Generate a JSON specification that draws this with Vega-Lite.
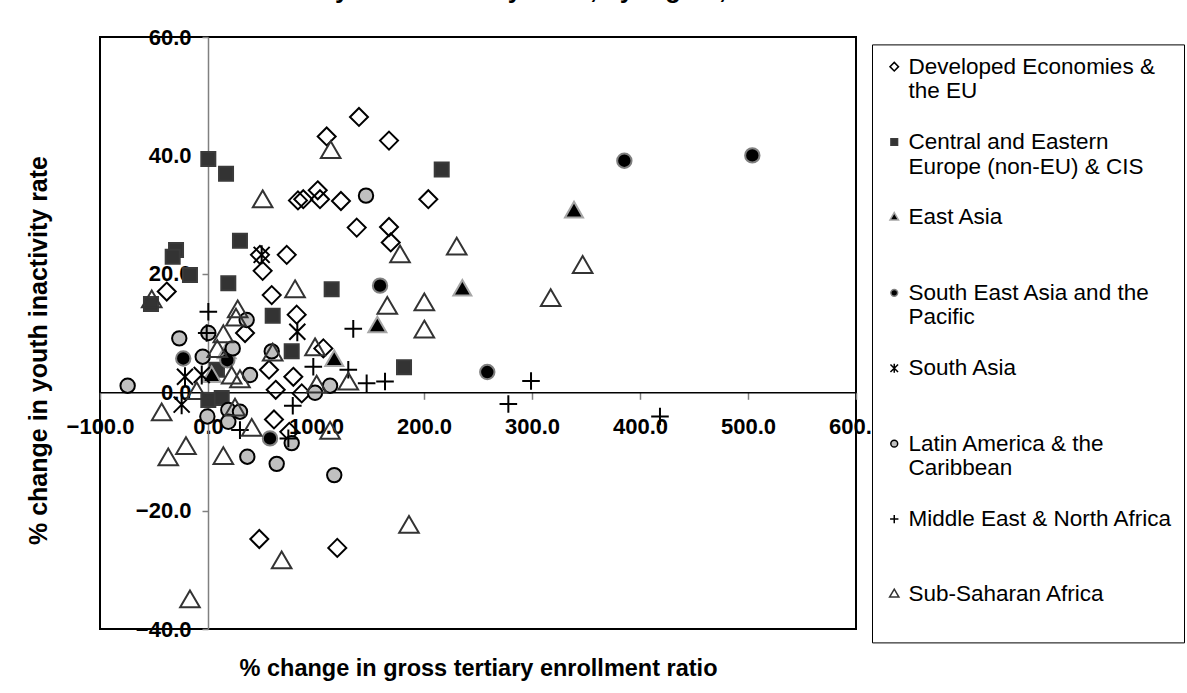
{
  "$schema": "https://vega.github.io/schema/vega-lite/v6.json",
  "autosize": "none",
  "width": 756,
  "height": 592,
  "padding": {"left": 100, "top": 37, "right": 331, "bottom": 64},
  "background": "white",
  "title": {
    "text": "youth inactivity rates, by region, 1995-2005",
    "anchor": "middle",
    "frame": "group",
    "dx": 117,
    "offset": 3,
    "baseline": "alphabetic",
    "font": "Liberation Sans",
    "fontWeight": "bold",
    "fontSize": 25.5,
    "color": "black"
  },
  "data": {
    "values": [
      {"region": "Developed Economies & the EU", "x": 139.8, "y": 46.5},
      {"region": "Developed Economies & the EU", "x": 109.9, "y": 43.2},
      {"region": "Developed Economies & the EU", "x": 167.6, "y": 42.5},
      {"region": "Developed Economies & the EU", "x": 88.2, "y": 32.6},
      {"region": "Developed Economies & the EU", "x": 83.3, "y": 32.4},
      {"region": "Developed Economies & the EU", "x": 101.6, "y": 34.1},
      {"region": "Developed Economies & the EU", "x": 103.7, "y": 32.6},
      {"region": "Developed Economies & the EU", "x": 123.1, "y": 32.3},
      {"region": "Developed Economies & the EU", "x": 204.0, "y": 32.6},
      {"region": "Developed Economies & the EU", "x": 137.7, "y": 27.8},
      {"region": "Developed Economies & the EU", "x": 167.6, "y": 27.9},
      {"region": "Developed Economies & the EU", "x": 169.2, "y": 25.3},
      {"region": "Developed Economies & the EU", "x": 48.1, "y": 23.2},
      {"region": "Developed Economies & the EU", "x": 72.9, "y": 23.2},
      {"region": "Developed Economies & the EU", "x": 50.6, "y": 20.5},
      {"region": "Developed Economies & the EU", "x": 59.0, "y": 16.4},
      {"region": "Developed Economies & the EU", "x": -38.2, "y": 17.0},
      {"region": "Developed Economies & the EU", "x": 82.1, "y": 13.1},
      {"region": "Developed Economies & the EU", "x": 34.3, "y": 10.0},
      {"region": "Developed Economies & the EU", "x": 106.8, "y": 7.4},
      {"region": "Developed Economies & the EU", "x": 56.5, "y": 3.8},
      {"region": "Developed Economies & the EU", "x": 79.0, "y": 2.6},
      {"region": "Developed Economies & the EU", "x": 62.7, "y": 0.4},
      {"region": "Developed Economies & the EU", "x": 86.8, "y": -0.2},
      {"region": "Developed Economies & the EU", "x": 61.1, "y": -4.6},
      {"region": "Developed Economies & the EU", "x": 75.3, "y": -6.7},
      {"region": "Developed Economies & the EU", "x": 47.5, "y": -24.8},
      {"region": "Developed Economies & the EU", "x": 119.7, "y": -26.3},
      {"region": "Central and Eastern Europe (non-EU) & CIS", "x": 0.3, "y": 39.4},
      {"region": "Central and Eastern Europe (non-EU) & CIS", "x": 16.7, "y": 36.9},
      {"region": "Central and Eastern Europe (non-EU) & CIS", "x": 29.6, "y": 25.6},
      {"region": "Central and Eastern Europe (non-EU) & CIS", "x": -29.6, "y": 24.0},
      {"region": "Central and Eastern Europe (non-EU) & CIS", "x": -32.7, "y": 22.9},
      {"region": "Central and Eastern Europe (non-EU) & CIS", "x": -16.7, "y": 19.8},
      {"region": "Central and Eastern Europe (non-EU) & CIS", "x": 18.8, "y": 18.4},
      {"region": "Central and Eastern Europe (non-EU) & CIS", "x": 114.5, "y": 17.4},
      {"region": "Central and Eastern Europe (non-EU) & CIS", "x": 59.9, "y": 12.9},
      {"region": "Central and Eastern Europe (non-EU) & CIS", "x": 77.5, "y": 6.9},
      {"region": "Central and Eastern Europe (non-EU) & CIS", "x": -52.8, "y": 14.9},
      {"region": "Central and Eastern Europe (non-EU) & CIS", "x": 0.3, "y": -1.3},
      {"region": "Central and Eastern Europe (non-EU) & CIS", "x": 12.7, "y": -1.0},
      {"region": "Central and Eastern Europe (non-EU) & CIS", "x": 8.3, "y": 3.8},
      {"region": "Central and Eastern Europe (non-EU) & CIS", "x": 216.4, "y": 37.6},
      {"region": "Central and Eastern Europe (non-EU) & CIS", "x": 181.5, "y": 4.2},
      {"region": "East Asia", "x": 338.9, "y": 30.4},
      {"region": "East Asia", "x": 235.5, "y": 17.2},
      {"region": "East Asia", "x": 156.8, "y": 11.0},
      {"region": "East Asia", "x": 116.9, "y": 5.3},
      {"region": "East Asia", "x": 17.3, "y": 6.6},
      {"region": "East Asia", "x": 3.4, "y": 2.6},
      {"region": "South East Asia and the Pacific", "x": 385.5, "y": 39.1},
      {"region": "South East Asia and the Pacific", "x": 504.0, "y": 40.0},
      {"region": "South East Asia and the Pacific", "x": 258.6, "y": 3.4},
      {"region": "South East Asia and the Pacific", "x": 159.3, "y": 18.0},
      {"region": "South East Asia and the Pacific", "x": -22.9, "y": 5.7},
      {"region": "South East Asia and the Pacific", "x": 17.9, "y": 5.4},
      {"region": "South East Asia and the Pacific", "x": 57.4, "y": -7.8},
      {"region": "South Asia", "x": 49.7, "y": 23.2},
      {"region": "South Asia", "x": 82.7, "y": 10.2},
      {"region": "South Asia", "x": -21.3, "y": 2.6},
      {"region": "South Asia", "x": -5.8, "y": 2.9},
      {"region": "South Asia", "x": -24.4, "y": -2.1},
      {"region": "Latin America & the Caribbean", "x": 146.3, "y": 33.2},
      {"region": "Latin America & the Caribbean", "x": -74.4, "y": 1.1},
      {"region": "Latin America & the Caribbean", "x": -26.6, "y": 9.1},
      {"region": "Latin America & the Caribbean", "x": -4.9, "y": 6.0},
      {"region": "Latin America & the Caribbean", "x": 35.8, "y": 12.2},
      {"region": "Latin America & the Caribbean", "x": 22.9, "y": 7.4},
      {"region": "Latin America & the Caribbean", "x": 38.9, "y": 2.9},
      {"region": "Latin America & the Caribbean", "x": 59.0, "y": 6.9},
      {"region": "Latin America & the Caribbean", "x": 113.0, "y": 1.1},
      {"region": "Latin America & the Caribbean", "x": 99.1, "y": -0.1},
      {"region": "Latin America & the Caribbean", "x": -0.6, "y": -4.1},
      {"region": "Latin America & the Caribbean", "x": 18.8, "y": -3.0},
      {"region": "Latin America & the Caribbean", "x": 29.6, "y": -3.3},
      {"region": "Latin America & the Caribbean", "x": 18.8, "y": -5.0},
      {"region": "Latin America & the Caribbean", "x": 77.5, "y": -8.6},
      {"region": "Latin America & the Caribbean", "x": 36.4, "y": -10.9},
      {"region": "Latin America & the Caribbean", "x": 63.6, "y": -12.1},
      {"region": "Latin America & the Caribbean", "x": 0.3, "y": 10.0},
      {"region": "Latin America & the Caribbean", "x": 116.9, "y": -14.0},
      {"region": "Middle East & North Africa", "x": 0.3, "y": 13.6},
      {"region": "Middle East & North Africa", "x": -1.2, "y": 10.0},
      {"region": "Middle East & North Africa", "x": 134.5, "y": 10.7},
      {"region": "Middle East & North Africa", "x": 97.5, "y": 4.3},
      {"region": "Middle East & North Africa", "x": 129.9, "y": 3.8},
      {"region": "Middle East & North Africa", "x": 146.9, "y": 1.5},
      {"region": "Middle East & North Africa", "x": 163.9, "y": 1.8},
      {"region": "Middle East & North Africa", "x": 78.5, "y": -2.3},
      {"region": "Middle East & North Africa", "x": 29.6, "y": -6.4},
      {"region": "Middle East & North Africa", "x": 74.4, "y": -7.8},
      {"region": "Middle East & North Africa", "x": 299.1, "y": 1.9},
      {"region": "Middle East & North Africa", "x": 278.1, "y": -2.0},
      {"region": "Middle East & North Africa", "x": 418.5, "y": -4.1},
      {"region": "Sub-Saharan Africa", "x": 113.6, "y": 40.5},
      {"region": "Sub-Saharan Africa", "x": 50.6, "y": 32.2},
      {"region": "Sub-Saharan Africa", "x": 177.8, "y": 22.9},
      {"region": "Sub-Saharan Africa", "x": 80.6, "y": 17.0},
      {"region": "Sub-Saharan Africa", "x": -52.1, "y": 15.3},
      {"region": "Sub-Saharan Africa", "x": 27.5, "y": 13.6},
      {"region": "Sub-Saharan Africa", "x": 25.9, "y": 12.2},
      {"region": "Sub-Saharan Africa", "x": 14.2, "y": 9.4},
      {"region": "Sub-Saharan Africa", "x": 8.6, "y": 6.9},
      {"region": "Sub-Saharan Africa", "x": 59.9, "y": 6.3},
      {"region": "Sub-Saharan Africa", "x": 99.1, "y": 7.2},
      {"region": "Sub-Saharan Africa", "x": 21.9, "y": 2.4},
      {"region": "Sub-Saharan Africa", "x": 29.6, "y": 1.8},
      {"region": "Sub-Saharan Africa", "x": -10.5, "y": -0.2},
      {"region": "Sub-Saharan Africa", "x": 100.6, "y": 0.9},
      {"region": "Sub-Saharan Africa", "x": 129.9, "y": 1.4},
      {"region": "Sub-Saharan Africa", "x": -42.9, "y": -3.8},
      {"region": "Sub-Saharan Africa", "x": 25.0, "y": -3.0},
      {"region": "Sub-Saharan Africa", "x": 40.5, "y": -6.4},
      {"region": "Sub-Saharan Africa", "x": 113.0, "y": -6.9},
      {"region": "Sub-Saharan Africa", "x": -20.4, "y": -9.5},
      {"region": "Sub-Saharan Africa", "x": -36.8, "y": -11.4},
      {"region": "Sub-Saharan Africa", "x": 14.2, "y": -11.2},
      {"region": "Sub-Saharan Africa", "x": 68.2, "y": -28.8},
      {"region": "Sub-Saharan Africa", "x": -16.7, "y": -35.4},
      {"region": "Sub-Saharan Africa", "x": 230.3, "y": 24.2},
      {"region": "Sub-Saharan Africa", "x": 346.9, "y": 21.1},
      {"region": "Sub-Saharan Africa", "x": 317.3, "y": 15.5},
      {"region": "Sub-Saharan Africa", "x": 200.3, "y": 14.8},
      {"region": "Sub-Saharan Africa", "x": 166.0, "y": 14.2},
      {"region": "Sub-Saharan Africa", "x": 200.3, "y": 10.2},
      {"region": "Sub-Saharan Africa", "x": 186.1, "y": -22.8}
    ]
  },
  "mark": {"type": "point", "filled": false, "opacity": 1, "strokeWidth": 2, "size": 400},
  "encoding": {
    "x": {
      "field": "x",
      "type": "quantitative",
      "scale": {"domain": [-100, 600], "nice": false, "zero": false},
      "axis": {
        "orient": "bottom",
        "offset": -236.7,
        "values": [-100, 0, 100, 200, 300, 400, 500, 600],
        "format": ".1f",
        "domainColor": "black",
        "domainWidth": 1.5,
        "tickColor": "#808080",
        "tickWidth": 1.5,
        "tickSize": 7,
        "labelPadding": 17,
        "labelFlush": false,
        "labelOverlap": false,
        "labelBound": false,
        "title": "% change in gross tertiary enrollment ratio",
        "titleY": 276,
        "titleBaseline": "middle"
      }
    },
    "y": {
      "field": "y",
      "type": "quantitative",
      "scale": {"domain": [-40, 60], "nice": false, "zero": false},
      "axis": {
        "orient": "left",
        "offset": -108,
        "values": [-40, -20, 0, 20, 40, 60],
        "format": ".1f",
        "domainColor": "#808080",
        "domainWidth": 1.5,
        "tickColor": "#808080",
        "tickWidth": 1.5,
        "tickSize": 6,
        "labelPadding": 11,
        "labelFlush": false,
        "labelOverlap": false,
        "labelBound": false,
        "title": "% change in youth inactivity rate",
        "titleFontSize": 25,
        "titleX": -170,
        "titleY": 313,
        "titleBaseline": "middle"
      }
    },
    "shape": {
      "field": "region",
      "type": "nominal",
      "scale": {
        "domain": ["Developed Economies & the EU", "Central and Eastern Europe (non-EU) & CIS", "East Asia", "South East Asia and the Pacific", "South Asia", "Latin America & the Caribbean", "Middle East & North Africa", "Sub-Saharan Africa"],
        "range": [
          "M0,-0.9L0.9,0L0,0.9L-0.9,0Z",
          "M-0.7,-0.7L0.7,-0.7L0.7,0.7L-0.7,0.7Z",
          "M0,-1.04L0.9,0.52L-0.9,0.52Z",
          "M0.72,0A0.72,0.72,0,1,1,-0.72,0A0.72,0.72,0,1,1,0.72,0Z",
          "M-0.8,-0.8L0.8,0.8M-0.8,0.8L0.8,-0.8M0,-0.95L0,0.95",
          "M0.72,0A0.72,0.72,0,1,1,-0.72,0A0.72,0.72,0,1,1,0.72,0Z",
          "M-0.88,0L0.88,0M0,-0.88L0,0.88",
          "M0,-1.12L0.98,0.56L-0.98,0.56Z"
        ]
      },
      "legend": {
        "orient": "none",
        "legendX": 772,
        "legendY": 7.4,
        "title": null,
        "padding": 11,
        "strokeColor": "black",
        "fillColor": "white",
        "labelFont": "Liberation Sans",
        "labelFontSize": 22.5,
        "labelColor": "black",
        "labelLimit": 400,
        "labelLineHeight": 28,
        "labelBaseline": "top",
        "labelOffset": 3,
        "rowPadding": 27.4,
        "symbolSize": 90,
        "symbolStrokeWidth": 1.5,
        "labelExpr": "datum.label == 'Developed Economies & the EU' ? ['Developed Economies &', 'the EU'] : datum.label == 'Central and Eastern Europe (non-EU) & CIS' ? ['Central and Eastern', 'Europe (non-EU) & CIS'] : datum.label == 'South East Asia and the Pacific' ? ['South East Asia and the', 'Pacific'] : datum.label == 'Latin America & the Caribbean' ? ['Latin America & the', 'Caribbean'] : [datum.label, '']",
        "encoding": {"labels": {"dy": {"value": -11}}}
      }
    },
    "fill": {
      "field": "region",
      "type": "nominal",
      "scale": {
        "domain": ["Developed Economies & the EU", "Central and Eastern Europe (non-EU) & CIS", "East Asia", "South East Asia and the Pacific", "South Asia", "Latin America & the Caribbean", "Middle East & North Africa", "Sub-Saharan Africa"],
        "range": ["transparent", "#333333", "#000000", "#000000", "transparent", "#c0c0c0", "transparent", "transparent"]
      }
    },
    "stroke": {
      "field": "region",
      "type": "nominal",
      "scale": {
        "domain": ["Developed Economies & the EU", "Central and Eastern Europe (non-EU) & CIS", "East Asia", "South East Asia and the Pacific", "South Asia", "Latin America & the Caribbean", "Middle East & North Africa", "Sub-Saharan Africa"],
        "range": ["#000000", "#3a3a3a", "#a6a6a6", "#808080", "#000000", "#000000", "#000000", "#333333"]
      }
    }
  },
  "config": {
    "view": {"stroke": "black", "strokeWidth": 2},
    "font": "Liberation Sans",
    "axis": {
      "grid": false,
      "labelFont": "Liberation Sans",
      "labelFontWeight": "bold",
      "labelFontSize": 22,
      "labelColor": "black",
      "titleFont": "Liberation Sans",
      "titleFontWeight": "bold",
      "titleFontSize": 23.5,
      "titleColor": "black"
    }
  }
}
